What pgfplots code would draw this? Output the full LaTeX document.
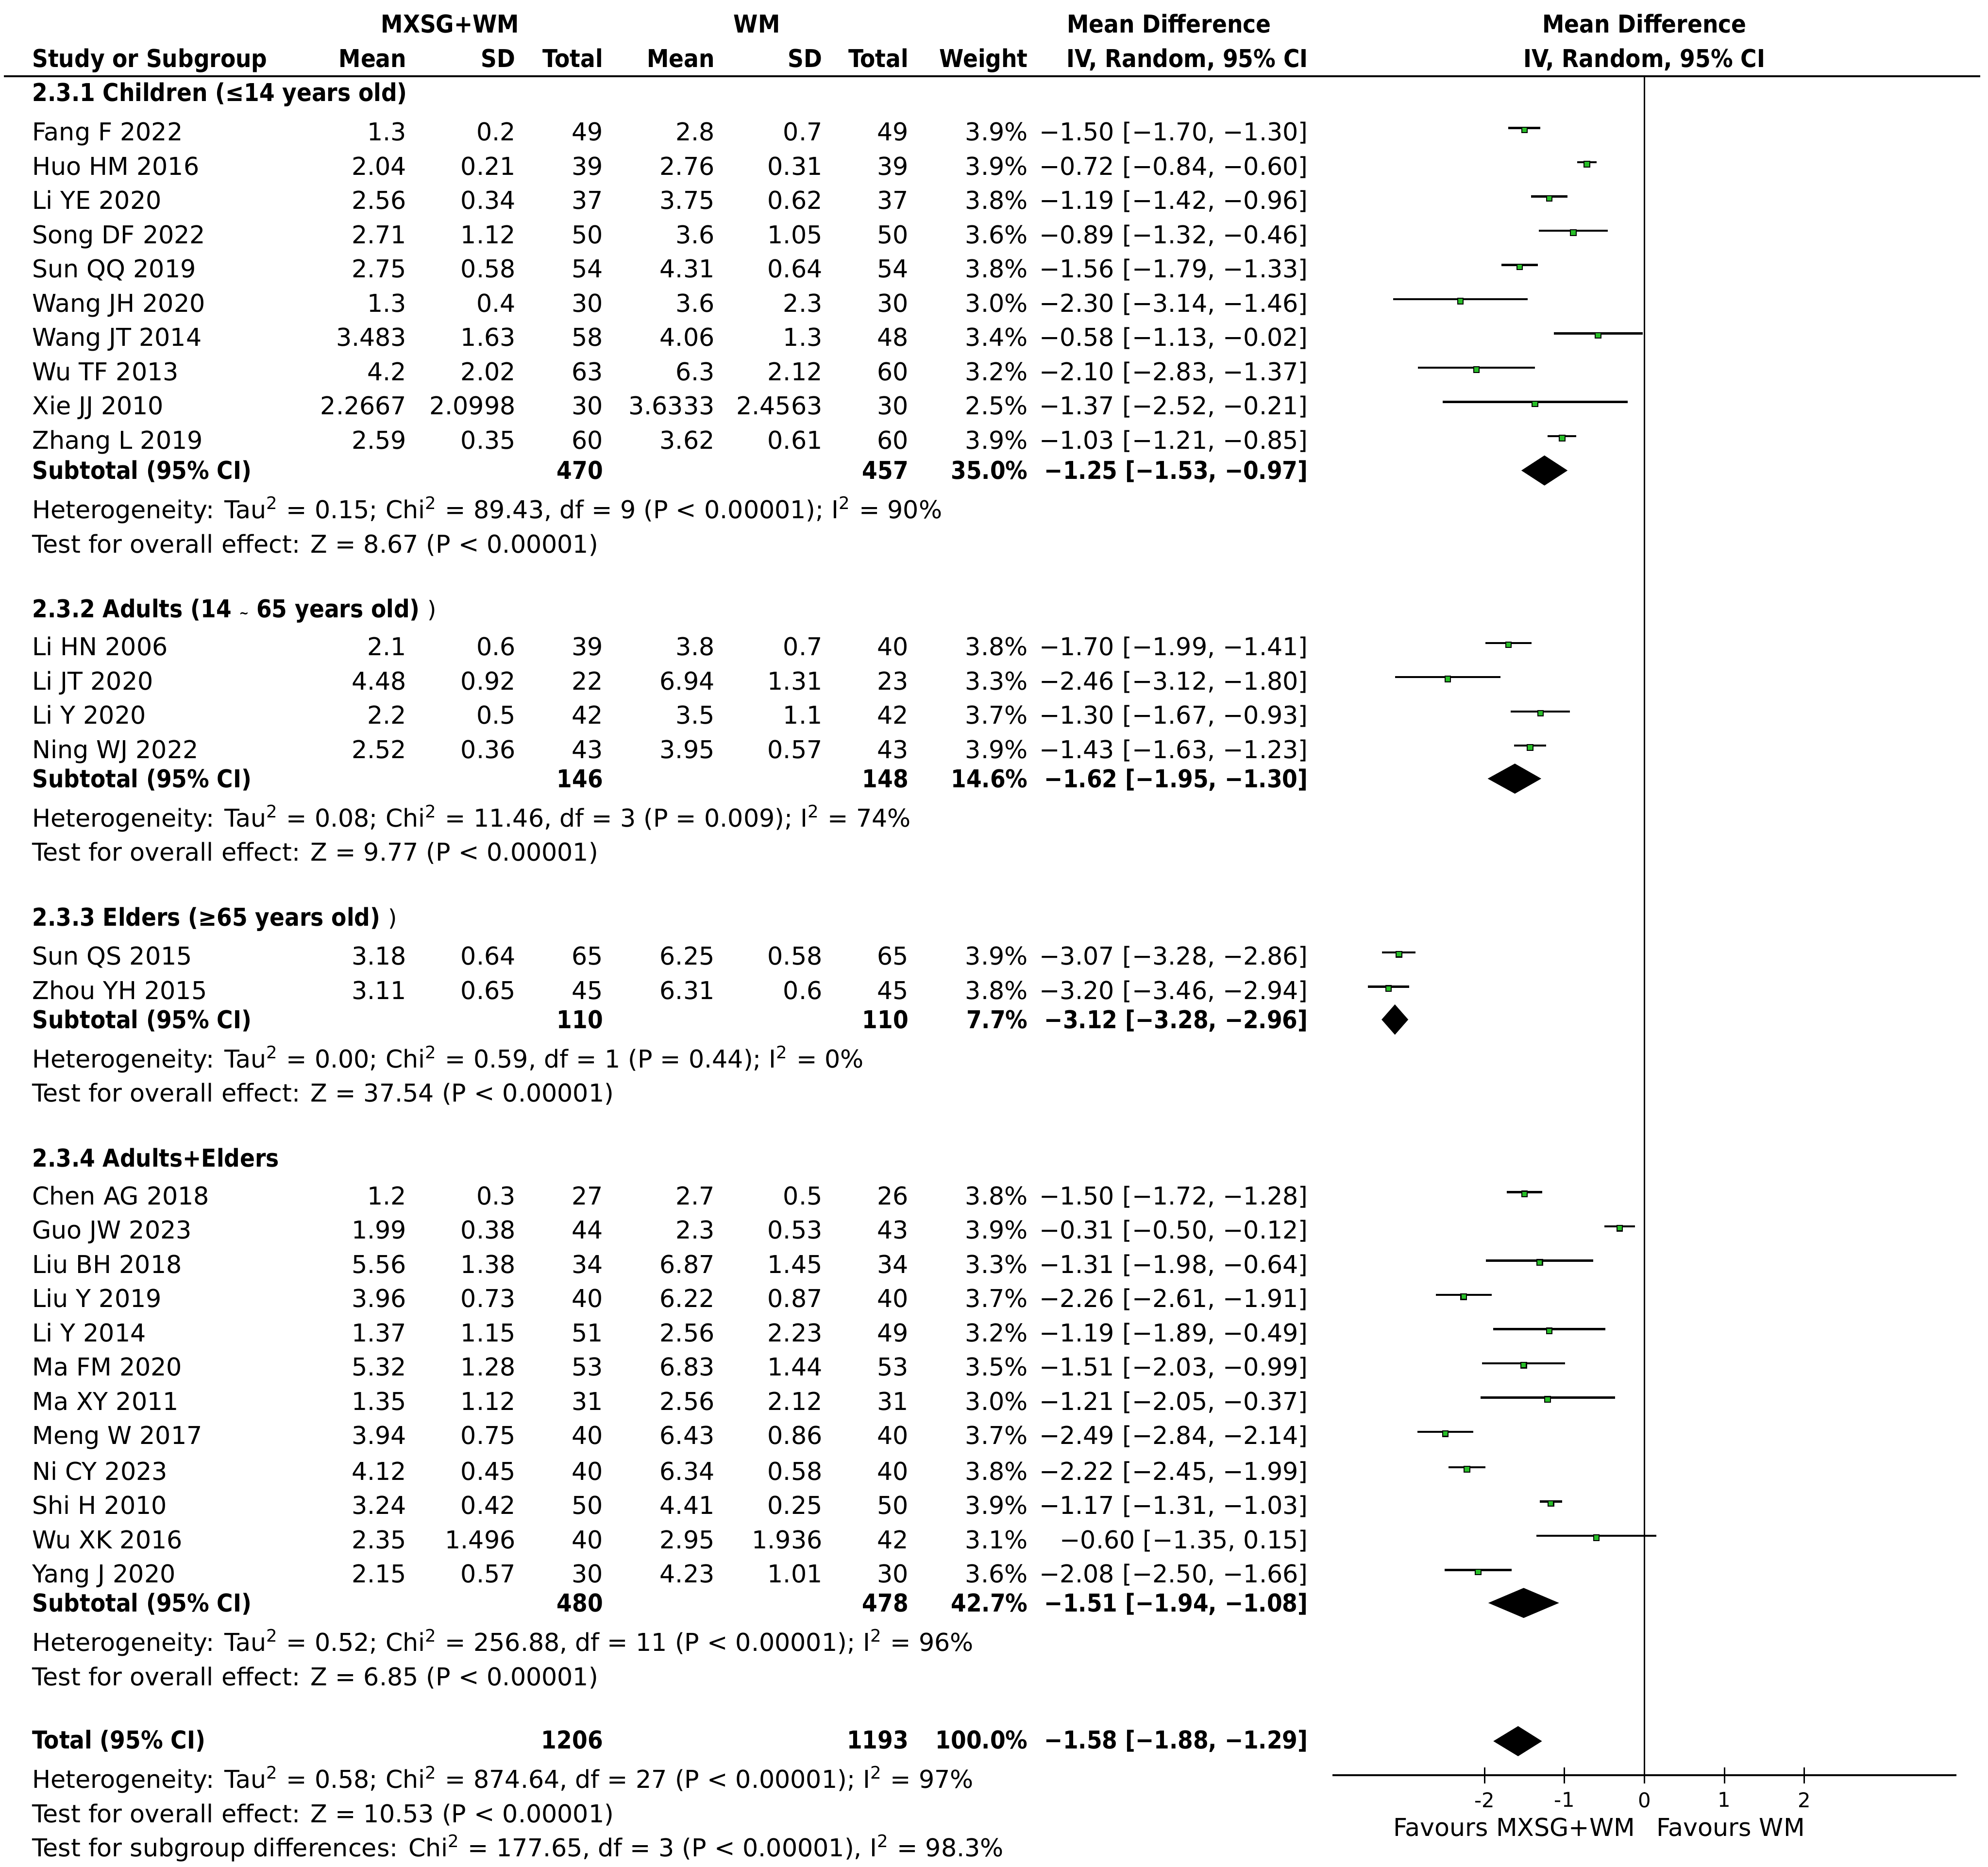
\documentclass[border=0pt]{standalone}
\usepackage{fontspec}
\setmainfont{DejaVu Sans}[BoldFont={DejaVu Sans Condensed Bold}]
\usepackage{pgfplots}
\usepackage{pgfplotstable}
\pgfplotsset{compat=1.18}
\definecolor{mkgreen}{RGB}{40,190,40}

\newcommand\T[3]{\node[anchor=base west,inner sep=0pt] at (#1,#2+7) {#3};}
\newcommand\R[3]{\node[anchor=base east,inner sep=0pt] at (#1,#2+7) {#3};}
\newcommand\C[3]{\node[anchor=base,inner sep=0pt] at (#1,#2+7) {#3};}
\newcommand\srow[9]{\T{25}{#1}{#2}\R{321}{#1}{#3}\R{407}{#1}{#4}\R{476}{#1}{#5}%
  \R{564}{#1}{#6}\R{649}{#1}{#7}\R{717}{#1}{#8}\R{811}{#1}{#9\%}\def\ry{#1}\ciN}
\newcommand\ciN[1]{\R{1032}{\ry}{#1}}
\newcommand\subt[5]{\T{25}{#1}{\bfseries Subtotal (95\% CI)}\R{476}{#1}{\bfseries #2}%
  \R{717}{#1}{\bfseries #3}\R{811}{#1}{\bfseries #4\%}\R{1032}{#1}{\bfseries #5}}
\newcommand\sq{\textsuperscript{2}}

\pgfplotstableread{
y md lo hi
104 -1.50 -1.70 -1.30
131 -0.72 -0.84 -0.60
158 -1.19 -1.42 -0.96
185 -0.89 -1.32 -0.46
212 -1.56 -1.79 -1.33
239 -2.30 -3.14 -1.46
266 -0.58 -1.13 -0.02
293 -2.10 -2.83 -1.37
320 -1.37 -2.52 -0.21
347 -1.03 -1.21 -0.85
510 -1.70 -1.99 -1.41
537 -2.46 -3.12 -1.80
564 -1.30 -1.67 -0.93
591 -1.43 -1.63 -1.23
754 -3.07 -3.28 -2.86
781 -3.20 -3.46 -2.94
943 -1.50 -1.72 -1.28
970 -0.31 -0.50 -0.12
997 -1.31 -1.98 -0.64
1024 -2.26 -2.61 -1.91
1051 -1.19 -1.89 -0.49
1078 -1.51 -2.03 -0.99
1105 -1.21 -2.05 -0.37
1132 -2.49 -2.84 -2.14
1160 -2.22 -2.45 -1.99
1187 -1.17 -1.31 -1.03
1214 -0.60 -1.35 0.15
1241 -2.08 -2.50 -1.66
}\studies

\begin{document}
\fontsize{9.7}{11.6}\selectfont
\begin{tikzpicture}[x=0.5pt,y=-0.5pt]
\useasboundingbox (0,0) rectangle (1568,1472);

% header
\C{355}{19}{\bfseries MXSG+WM}
\C{597}{19}{\bfseries WM}
\C{922}{19}{\bfseries Mean Difference}
\C{1297}{19}{\bfseries Mean Difference}
\T{25}{46}{\bfseries Study or Subgroup}
\R{321}{46}{\bfseries Mean}\R{407}{46}{\bfseries SD}\R{476}{46}{\bfseries Total}
\R{564}{46}{\bfseries Mean}\R{649}{46}{\bfseries SD}\R{717}{46}{\bfseries Total}
\R{811}{46}{\bfseries Weight}\R{1032}{46}{\bfseries IV, Random, 95\% CI}
\C{1297}{46}{\bfseries IV, Random, 95\% CI}
\draw[line width=0.75pt] (3,60) -- (1562,60);

% 2.3.1
\T{25}{73}{\bfseries 2.3.1 Children (≤14 years old)}
\srow{104}{Fang F 2022}{1.3}{0.2}{49}{2.8}{0.7}{49}{3.9}{−1.50 [−1.70, −1.30]}
\srow{131}{Huo HM 2016}{2.04}{0.21}{39}{2.76}{0.31}{39}{3.9}{−0.72 [−0.84, −0.60]}
\srow{158}{Li YE 2020}{2.56}{0.34}{37}{3.75}{0.62}{37}{3.8}{−1.19 [−1.42, −0.96]}
\srow{185}{Song DF 2022}{2.71}{1.12}{50}{3.6}{1.05}{50}{3.6}{−0.89 [−1.32, −0.46]}
\srow{212}{Sun QQ 2019}{2.75}{0.58}{54}{4.31}{0.64}{54}{3.8}{−1.56 [−1.79, −1.33]}
\srow{239}{Wang JH 2020}{1.3}{0.4}{30}{3.6}{2.3}{30}{3.0}{−2.30 [−3.14, −1.46]}
\srow{266}{Wang JT 2014}{3.483}{1.63}{58}{4.06}{1.3}{48}{3.4}{−0.58 [−1.13, −0.02]}
\srow{293}{Wu TF 2013}{4.2}{2.02}{63}{6.3}{2.12}{60}{3.2}{−2.10 [−2.83, −1.37]}
\srow{320}{Xie JJ 2010}{2.2667}{2.0998}{30}{3.6333}{2.4563}{30}{2.5}{−1.37 [−2.52, −0.21]}
\srow{347}{Zhang L 2019}{2.59}{0.35}{60}{3.62}{0.61}{60}{3.9}{−1.03 [−1.21, −0.85]}
\subt{371}{470}{457}{35.0}{−1.25 [−1.53, −0.97]}
\T{25}{402}{Heterogeneity: Tau\sq{} = 0.15; Chi\sq{} = 89.43, df = 9 (P < 0.00001); I\sq{} = 90\%}
\T{25}{429}{Test for overall effect: Z = 8.67 (P < 0.00001)}

% 2.3.2
\T{25}{480}{\bfseries 2.3.2 Adults (14 {\tiny\textasciitilde} 65 years old) {\mdseries\small)}}
\srow{510}{Li HN 2006}{2.1}{0.6}{39}{3.8}{0.7}{40}{3.8}{−1.70 [−1.99, −1.41]}
\srow{537}{Li JT 2020}{4.48}{0.92}{22}{6.94}{1.31}{23}{3.3}{−2.46 [−3.12, −1.80]}
\srow{564}{Li Y 2020}{2.2}{0.5}{42}{3.5}{1.1}{42}{3.7}{−1.30 [−1.67, −0.93]}
\srow{591}{Ning WJ 2022}{2.52}{0.36}{43}{3.95}{0.57}{43}{3.9}{−1.43 [−1.63, −1.23]}
\subt{614}{146}{148}{14.6}{−1.62 [−1.95, −1.30]}
\T{25}{645}{Heterogeneity: Tau\sq{} = 0.08; Chi\sq{} = 11.46, df = 3 (P = 0.009); I\sq{} = 74\%}
\T{25}{672}{Test for overall effect: Z = 9.77 (P < 0.00001)}

% 2.3.3
\T{25}{723}{\bfseries 2.3.3 Elders (≥65 years old) {\mdseries\small)}}
\srow{754}{Sun QS 2015}{3.18}{0.64}{65}{6.25}{0.58}{65}{3.9}{−3.07 [−3.28, −2.86]}
\srow{781}{Zhou YH 2015}{3.11}{0.65}{45}{6.31}{0.6}{45}{3.8}{−3.20 [−3.46, −2.94]}
\subt{804}{110}{110}{7.7}{−3.12 [−3.28, −2.96]}
\T{25}{835}{Heterogeneity: Tau\sq{} = 0.00; Chi\sq{} = 0.59, df = 1 (P = 0.44); I\sq{} = 0\%}
\T{25}{862}{Test for overall effect: Z = 37.54 (P < 0.00001)}

% 2.3.4
\T{25}{913}{\bfseries 2.3.4 Adults+Elders}
\srow{943}{Chen AG 2018}{1.2}{0.3}{27}{2.7}{0.5}{26}{3.8}{−1.50 [−1.72, −1.28]}
\srow{970}{Guo JW 2023}{1.99}{0.38}{44}{2.3}{0.53}{43}{3.9}{−0.31 [−0.50, −0.12]}
\srow{997}{Liu BH 2018}{5.56}{1.38}{34}{6.87}{1.45}{34}{3.3}{−1.31 [−1.98, −0.64]}
\srow{1024}{Liu Y 2019}{3.96}{0.73}{40}{6.22}{0.87}{40}{3.7}{−2.26 [−2.61, −1.91]}
\srow{1051}{Li Y 2014}{1.37}{1.15}{51}{2.56}{2.23}{49}{3.2}{−1.19 [−1.89, −0.49]}
\srow{1078}{Ma FM 2020}{5.32}{1.28}{53}{6.83}{1.44}{53}{3.5}{−1.51 [−2.03, −0.99]}
\srow{1105}{Ma XY 2011}{1.35}{1.12}{31}{2.56}{2.12}{31}{3.0}{−1.21 [−2.05, −0.37]}
\srow{1132}{Meng W 2017}{3.94}{0.75}{40}{6.43}{0.86}{40}{3.7}{−2.49 [−2.84, −2.14]}
\srow{1160}{Ni CY 2023}{4.12}{0.45}{40}{6.34}{0.58}{40}{3.8}{−2.22 [−2.45, −1.99]}
\srow{1187}{Shi H 2010}{3.24}{0.42}{50}{4.41}{0.25}{50}{3.9}{−1.17 [−1.31, −1.03]}
\srow{1214}{Wu XK 2016}{2.35}{1.496}{40}{2.95}{1.936}{42}{3.1}{−0.60 [−1.35, 0.15]}
\srow{1241}{Yang J 2020}{2.15}{0.57}{30}{4.23}{1.01}{30}{3.6}{−2.08 [−2.50, −1.66]}
\subt{1264}{480}{478}{42.7}{−1.51 [−1.94, −1.08]}
\T{25}{1295}{Heterogeneity: Tau\sq{} = 0.52; Chi\sq{} = 256.88, df = 11 (P < 0.00001); I\sq{} = 96\%}
\T{25}{1322}{Test for overall effect: Z = 6.85 (P < 0.00001)}

% total
\T{25}{1372}{\bfseries Total (95\% CI)}
\R{476}{1372}{\bfseries 1206}\R{717}{1372}{\bfseries 1193}\R{811}{1372}{\bfseries 100.0\%}
\R{1032}{1372}{\bfseries −1.58 [−1.88, −1.29]}
\T{25}{1403}{Heterogeneity: Tau\sq{} = 0.58; Chi\sq{} = 874.64, df = 27 (P < 0.00001); I\sq{} = 97\%}
\T{25}{1430}{Test for overall effect: Z = 10.53 (P < 0.00001)}
\T{25}{1457}{Test for subgroup differences: Chi\sq{} = 177.65, df = 3 (P < 0.00001), I\sq{} = 98.3\%}

% favours
\R{1290}{1441}{Favours MXSG+WM}
\T{1306}{1441}{Favours WM}

\begin{axis}[at={(525.5pt,-700pt)}, anchor=south west, scale only axis,
  width=246pt, height=670pt, xmin=-3.9, xmax=3.9, ymin=-1400, ymax=-60,
  clip=false, axis x line*=bottom, axis y line=none,
  x axis line style={line width=0.75pt,-},
  xtick={-2,-1,0,1,2}, xticklabels={-2,-1,0,1,2},
  xtick align=center, major tick length=6.4pt,
  every tick/.style={black, line width=0.6pt},
  xticklabel style={font=\fontsize{8}{9}\selectfont, yshift=0pt}]
\draw[line width=0.5pt] (axis cs:0,-60) -- (axis cs:0,-1400);
\addplot[draw=none, mark=none, forget plot,
  error bars/.cd, x dir=both, x explicit, error mark=none,
  error bar style={draw=black, solid, line width=0.85pt}]
  table[x=md, y expr=-\thisrow{y}+3,
        x error plus expr=\thisrow{hi}-\thisrow{md},
        x error minus expr=\thisrow{md}-\thisrow{lo}] {\studies};
\addplot[only marks, mark=square*, mark size=1.1pt,
  mark options={fill=mkgreen, draw=none}, forget plot]
  table[x=md, y expr=-\thisrow{y}+1.5] {\studies};
% diamonds (subtotals and total)
\addplot[fill=black, draw=black, line width=0.3pt] coordinates {(-1.53,-371) (-1.25,-359.5) (-0.97,-371) (-1.25,-382.5)} -- cycle;
\addplot[fill=black, draw=black, line width=0.3pt] coordinates {(-1.95,-614) (-1.62,-602.5) (-1.30,-614) (-1.62,-625.5)} -- cycle;
\addplot[fill=black, draw=black, line width=0.3pt] coordinates {(-3.28,-804) (-3.12,-792.5) (-2.96,-804) (-3.12,-815.5)} -- cycle;
\addplot[fill=black, draw=black, line width=0.3pt] coordinates {(-1.94,-1264) (-1.51,-1252.5) (-1.08,-1264) (-1.51,-1275.5)} -- cycle;
\addplot[fill=black, draw=black, line width=0.3pt] coordinates {(-1.88,-1373) (-1.58,-1361.5) (-1.29,-1373) (-1.58,-1384.5)} -- cycle;
\end{axis}
\end{tikzpicture}
\end{document}
